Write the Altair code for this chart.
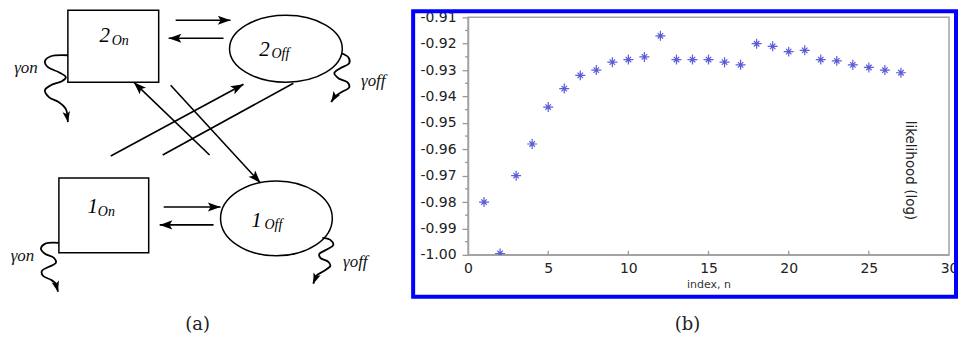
import altair as alt
import pandas as pd

# ---------------- panel (b): likelihood vs index ----------------
INDEX_N = list(range(1, 28))
LOG_LIKELIHOOD = [-0.980, -0.9995, -0.970, -0.958, -0.944, -0.937, -0.932, -0.930, -0.927,
                  -0.926, -0.925, -0.917, -0.926, -0.926, -0.926, -0.927, -0.928, -0.920,
                  -0.921, -0.923, -0.9225, -0.926, -0.9265, -0.928, -0.929, -0.930, -0.931]
X_TICKS = [0, 5, 10, 15, 20, 25, 30]
Y_TICKS = [-1.0, -0.99, -0.98, -0.97, -0.96, -0.95, -0.94, -0.93, -0.92, -0.91]
Y_MINOR_TICKS = [-0.995, -0.985, -0.975, -0.965, -0.955, -0.945, -0.935, -0.925, -0.915]
X_TITLE = "index, n"
Y_TITLE = "likelihood (log)"

# ---------------- panel (a): state diagram (reference pixel space) ----------------
BOX_X1 = [67, 58]
BOX_X2 = [158, 148]
BOX_Y1 = [9, 177]
BOX_Y2 = [81, 252]

ELL_CX = [285.5, 276]
ELL_CY = [47.5, 217.5]
ELL_RX = [56.5, 56]
ELL_RY = [33.5, 37.5]

ARROW_X1 = [175, 223, 163, 213, 209, 170, 110, 293]
ARROW_Y1 = [19, 37, 206, 224, 154, 84, 155, 82]
ARROW_X2 = [230, 168, 220, 159, 133, 260, 243, 162]
ARROW_Y2 = [19, 37, 206, 224, 81, 182, 83, 154]
ARROW_HEAD = [True, True, True, True, True, True, True, False]

WAVE_2ON = [(67, 54), (50, 55), (44, 60), (47, 66), (58, 71), (65, 76), (61, 80), (50, 84),
            (44, 89), (48, 96), (58, 101), (65, 108), (67, 121)]
WAVE_2OFF = [(341, 52), (348, 56), (349, 62), (340, 67), (334, 72), (338, 77), (347, 81),
             (349, 86), (341, 91), (334, 96), (331, 101)]
WAVE_1ON = [(58, 242), (44, 243), (40, 248), (44, 253), (53, 257), (55, 262), (48, 266),
            (41, 270), (42, 275), (50, 279), (55, 283), (57, 291)]
WAVE_1OFF = [(322, 237), (330, 239), (333, 244), (326, 249), (319, 253), (320, 257), (328, 261),
             (330, 265), (324, 270), (316, 275), (313, 283)]
WAVES = [WAVE_2ON, WAVE_2OFF, WAVE_1ON, WAVE_1OFF]

STATE_MAIN = ["2", "2", "1", "1"]
STATE_MAIN_X = [104, 264, 92, 256]
STATE_MAIN_Y = [41, 55, 212, 226]
STATE_SUB = ["On", "Off", "On", "Off"]
STATE_SUB_X = [111, 271, 97, 264]
STATE_SUB_Y = [44, 57, 215, 228]

GAMMA_TEXT = ["γon", "γoff", "γon", "γoff"]
GAMMA_X = [25, 373, 21.5, 355]
GAMMA_Y = [67, 80, 255, 261]

CAPTION_TEXT = ["(a)", "(b)"]
CAPTION_X = [197, 688]
CAPTION_Y = [324.5, 324.5]

# ---------------- tables ----------------
df_b = pd.DataFrame({"n": INDEX_N, "v": LOG_LIKELIHOOD})
df_xt = pd.DataFrame({"n": X_TICKS[1:-1]})
df_ymin = pd.DataFrame({"v": Y_MINOR_TICKS})

df_box = pd.DataFrame({"x1": BOX_X1, "x2": BOX_X2, "y1": BOX_Y1, "y2": BOX_Y2})


def ellipse_path(ratio):
    k = 0.5523
    r = ratio
    return (f"M-1,0C-1,{-k*r:.4f},{-k:.4f},{-r:.4f},0,{-r:.4f}"
            f"C{k:.4f},{-r:.4f},1,{-k*r:.4f},1,0"
            f"C1,{k*r:.4f},{k:.4f},{r:.4f},0,{r:.4f}"
            f"C{-k:.4f},{r:.4f},-1,{k*r:.4f},-1,0Z")


df_ell = pd.DataFrame({
    "x": ELL_CX, "y": ELL_CY,
    "path": [ellipse_path(ry / rx) for rx, ry in zip(ELL_RX, ELL_RY)],
    "sz": [(2 * rx) ** 2 for rx in ELL_RX],
})
df_arrow = pd.DataFrame({"x1": ARROW_X1, "y1": ARROW_Y1, "x2": ARROW_X2, "y2": ARROW_Y2,
                         "head": ARROW_HEAD})
df_head = df_arrow[df_arrow["head"]].reset_index(drop=True)

wave_rows = []
whead_rows = []
for w, pts in enumerate(WAVES):
    for i, (x, y) in enumerate(pts):
        wave_rows.append({"w": w, "i": i, "x": x, "y": y})
    whead_rows.append({"x1": pts[-2][0], "y1": pts[-2][1], "x2": pts[-1][0], "y2": pts[-1][1]})
df_wave = pd.DataFrame(wave_rows)
df_whead = pd.DataFrame(whead_rows)

df_main = pd.DataFrame({"t": STATE_MAIN, "x": STATE_MAIN_X, "y": STATE_MAIN_Y})
df_sub = pd.DataFrame({"t": STATE_SUB, "x": STATE_SUB_X, "y": STATE_SUB_Y})
df_gamma = pd.DataFrame({"t": GAMMA_TEXT, "x": GAMMA_X, "y": GAMMA_Y})
df_cap = pd.DataFrame({"t": CAPTION_TEXT, "x": CAPTION_X, "y": CAPTION_Y})

# ---------------- panel (a) chart ----------------
W_A, H_A = 400, 318
XS_A = alt.Scale(domain=[8, 408], nice=False, zero=False)
YS_A = alt.Scale(domain=[16, 334], nice=False, zero=False, reverse=True)


def ax(f):
    return alt.X(f"{f}:Q", scale=XS_A, axis=None)


def ay(f):
    return alt.Y(f"{f}:Q", scale=YS_A, axis=None)


HEAD_PATH = "M0,0L0.5,1.4L0,1.1L-0.5,1.4Z"
ANGLE_EXPR = "(atan2(datum.x2 - datum.x1, datum.y1 - datum.y2) * 180 / PI + 360) % 360"

boxes = alt.Chart(df_box).mark_rect(filled=False, color="black", strokeWidth=1.5).encode(
    x=ax("x1"), x2="x2", y=ay("y1"), y2="y2")

ellipses = alt.Chart(df_ell).mark_point(filled=False, color="black", strokeWidth=1.5,
                                        opacity=1).encode(
    x=ax("x"), y=ay("y"),
    shape=alt.Shape("path:N", scale=None, legend=None),
    size=alt.Size("sz:Q", scale=None, legend=None))

arrows = alt.Chart(df_arrow).mark_rule(color="black", strokeWidth=1.6).encode(
    x=ax("x1"), y=ay("y1"), x2="x2", y2="y2")

heads = alt.Chart(df_head).transform_calculate(angle=ANGLE_EXPR).mark_point(
    shape=HEAD_PATH, filled=True, color="black", size=330, opacity=1, strokeWidth=0).encode(
    x=ax("x2"), y=ay("y2"), angle=alt.Angle("angle:Q", scale=None))

waves = alt.Chart(df_wave).mark_line(interpolate="catmull-rom", color="black",
                                     strokeWidth=1.8).encode(
    x=ax("x"), y=ay("y"), detail="w:N", order="i:Q")

wheads = alt.Chart(df_whead).transform_calculate(angle=ANGLE_EXPR).mark_point(
    shape=HEAD_PATH, filled=True, color="black", size=230, opacity=1, strokeWidth=0).encode(
    x=ax("x2"), y=ay("y2"), angle=alt.Angle("angle:Q", scale=None))

main_txt = alt.Chart(df_main).mark_text(font="Liberation Serif", fontStyle="italic",
                                        fontSize=21, align="center", baseline="alphabetic",
                                        color="black").encode(
    x=ax("x"), y=ay("y"), text="t:N")

sub_txt = alt.Chart(df_sub).mark_text(font="Liberation Serif", fontStyle="italic",
                                      fontSize=14, align="left", baseline="alphabetic",
                                      color="black").encode(
    x=ax("x"), y=ay("y"), text="t:N")

gamma_txt = alt.Chart(df_gamma).mark_text(font="Liberation Serif", fontStyle="italic",
                                          fontSize=17, align="center", baseline="middle",
                                          color="#111").encode(
    x=ax("x"), y=ay("y"), text="t:N")

captions = alt.Chart(df_cap).mark_text(font="DejaVu Serif", fontSize=18, align="center",
                                       baseline="middle", color="#222").encode(
    x=ax("x"), y=ay("y"), text="t:N")

left = alt.layer(boxes, ellipses, arrows, heads, waves, wheads, main_txt, sub_txt,
                 gamma_txt, captions).properties(width=W_A, height=H_A)

# ---------------- panel (b) chart ----------------
W_B, H_B = 482, 238
GRAY = "#a3a3a3"
STAR = "M-1,0L1,0M0,-1L0,1M-0.55,-0.55L0.55,0.55M-0.55,0.55L0.55,-0.55"
XS_B = alt.Scale(domain=[0, 30], nice=False, zero=False)
YS_B = alt.Scale(domain=[-1.0, -0.91], nice=False, zero=False)

X_AXIS = alt.Axis(values=X_TICKS, ticks=False, tickSize=0, labelPadding=7,
                  labelFlush=False, labelFont="DejaVu Sans", labelFontSize=14,
                  labelColor="#222", domainColor=GRAY, domainWidth=1.5, grid=False,
                  title=X_TITLE, titleFont="DejaVu Sans", titleFontSize=11,
                  titleFontWeight="normal", titleColor="#333", titleY=33,
                  titleBaseline="alphabetic")
Y_AXIS = alt.Axis(values=Y_TICKS,
                  labelExpr="(datum.value < 0 ? '-' : '') + format(abs(datum.value), '.2f')",
                  ticks=True, tickSize=6, tickColor="#999999", tickWidth=1.3, labelPadding=6,
                  labelOverlap=False, labelFlush=False, labelFont="DejaVu Sans",
                  labelFontSize=14, labelColor="#222", domainColor=GRAY,
                  domainWidth=1.5, grid=False,
                  title=Y_TITLE, titleX=442, titleY=153, titleAngle=90,
                  titleAlign="center", titleBaseline="middle", titleFont="DejaVu Sans",
                  titleFontSize=13.5, titleFontWeight="normal", titleColor="#222")

points = alt.Chart(df_b).mark_point(shape=STAR, filled=False, size=100, strokeWidth=1.2,
                                    color="#4a4ad6", opacity=0.9, clip=True).encode(
    x=alt.X("n:Q", scale=XS_B, axis=X_AXIS),
    y=alt.Y("v:Q", scale=YS_B, axis=Y_AXIS))

frame = alt.Chart(alt.Data(values=[{"k": 1}])).mark_rect(
    filled=False, color="#0000ff", strokeWidth=4).encode(
    x=alt.value(-55), x2=alt.value(489), y=alt.value(-6), y2=alt.value(280))

xticks_in = alt.Chart(df_xt).mark_rule(color="#999999", strokeWidth=1.3).encode(
    x=alt.X("n:Q", scale=XS_B, axis=X_AXIS), y=alt.value(H_B - 4), y2=alt.value(H_B))

yticks_minor = alt.Chart(df_ymin).mark_rule(color="#999999", strokeWidth=1.3).encode(
    y=alt.Y("v:Q", scale=YS_B, axis=Y_AXIS), x=alt.value(-3), x2=alt.value(0))

right = alt.layer(points, xticks_in, yticks_minor, frame).properties(
    width=W_B, height=H_B, view=alt.ViewBackground(stroke=GRAY, strokeWidth=1.5))

chart = alt.hconcat(left, right, spacing=60, bounds="flush").properties(
    padding=0, background="white").configure_view(stroke="transparent")

chart.save("out.html", embed_options={"renderer": "svg", "actions": False})
